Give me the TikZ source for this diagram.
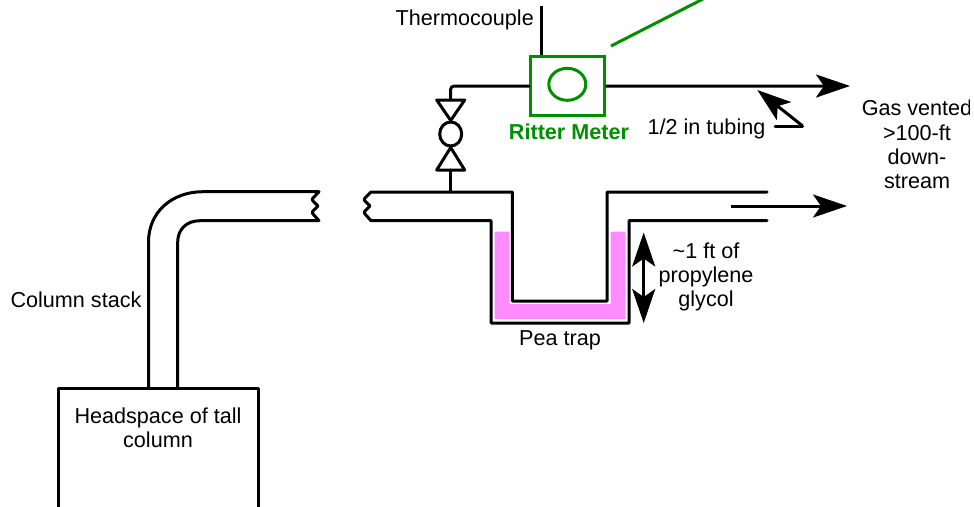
\documentclass[tikz,border=0pt]{standalone}
\usepackage{fontspec}
\setmainfont{Liberation Sans}
\usetikzlibrary{arrows.meta,shapes.geometric}
\definecolor{meterg}{HTML}{008F00}
\definecolor{pinkliq}{HTML}{FF8CFF}
\tikzset{
  x=1pt,y=-1pt,
  pipe/.style={draw=black,line width=3pt,line join=round,line cap=round},
  greenline/.style={draw=meterg,line width=3pt},
  bigarrow/.style={pipe,line cap=butt,-{Stealth[length=34pt,width=23pt,inset=8pt]}},
  bothways/.style={pipe,line cap=butt,{Stealth[length=34pt,width=23pt,inset=8pt]}-{Stealth[length=34pt,width=23pt,inset=8pt]}},
  txt/.style={inner sep=0pt,font=\fontsize{21.6}{24.4}\selectfont,align=center,text=black},
}
\begin{document}
\begin{tikzpicture}
\useasboundingbox (0,0) rectangle (974,506);
\clip (0,0) rectangle (969.5,506);
% pink liquid
\fill[pinkliq] (494.7,231.7) -- (509.3,231.7) -- (509.3,304) -- (610.7,304) -- (610.7,231.7) -- (625.5,231.7) -- (625.5,319) -- (494.7,319) -- cycle;
% meter and valve nodes
\node[draw=meterg,line width=3pt,minimum width=73.5pt,minimum height=59.5pt,inner sep=0pt] (meter) at (567.3,86.2) {};
\node[draw=meterg,line width=3pt,ellipse,minimum width=37pt,minimum height=32pt,inner sep=0pt] (dial) at (567.3,84.3) {};
\node[draw=black,line width=3pt,ellipse,minimum width=22pt,minimum height=24pt,inner sep=0pt] (valve) at (450.7,134) {};
\draw[pipe] (436.7,100) -- (464.7,100) -- (valve.north) -- cycle;
\draw[pipe] (436.7,170) -- (464.7,170) -- (valve.south) -- cycle;
\coordinate (vtop) at (450.7,100);
\coordinate (vbot) at (450.7,170);
\coordinate (tee) at (450.7,191.7);
% tubing
\coordinate (tctop) at (541.7,6);
\draw[pipe,line cap=butt] (tctop) -- (tctop |- meter.north);
\draw[pipe,rounded corners=3pt] (meter.west) -- (vtop |- meter.west) -- (vtop);
\draw[pipe] (vbot) -- (tee);
\coordinate (vent) at (850,86);
\draw[bigarrow] (meter.east) -- (vent);
\draw[greenline] (611,46) -- (703,-1);
% stack and left pipe
\draw[pipe,line cap=butt] (58,510) -- (58,388) -- (258,388) -- (258,510);
\draw[pipe] (148.5,388) -- (148.5,242) .. controls (148.5,212) and (172,191.7) .. (203,191.7) -- (319,191.7)
  -- (313,198) .. controls (312,199) and (312,200) .. (313,201) -- (318,206) -- (313,211) .. controls (312,212) and (312,213) .. (313,214) -- (319,220.7)
  -- (200,220.7) .. controls (186,220.7) and (177.7,230) .. (177.7,242) -- (177.7,388);
% right pipe and trap
\draw[pipe] (767,192) -- (607,192) -- (607,301) -- (512.3,301) -- (512.3,192) -- (371,192)
  -- (365,198) .. controls (364,199) and (364,200) .. (365,201) -- (370,206) -- (365,211) .. controls (364,212) and (364,213) .. (365,214) -- (371,220.7)
  -- (491,220.7) -- (491,323) -- (629,323) -- (629,220.7) -- (767,220.7);
% arrows
\coordinate (flowa) at (731,206);
\coordinate (flowb) at (847,206);
\draw[bigarrow] (flowa) -- (flowb);
\coordinate (lvla) at (643.7,232.5);
\coordinate (lvlb) at (643.7,323);
\draw[bothways] (lvla) -- (lvlb);
\coordinate (tuba) at (775,126);
\coordinate (tubb) at (802.7,126);
\coordinate (tubc) at (757.3,90);
\draw[pipe] (tuba) -- (tubb);
\draw[pipe,line cap=butt,-{Stealth[length=34pt,width=23pt,inset=8pt]}] (tubb) -- (tubc);
% labels
\node[txt,anchor=east] (tc) at (534,20) {Thermocouple};
\node[txt,anchor=center,text=meterg,font=\fontsize{21.6}{24.4}\selectfont\bfseries] (rm) at (569,132) {Ritter Meter};
\node[txt] (tube) at (706.5,129) {1/2 in tubing};
\node[txt] (gas) at (917,144.5) {Gas vented\\>100-ft\\down-\\stream};
\node[txt] (glyc) at (706,277) {\textasciitilde 1 ft of\\propylene\\glycol};
\node[txt] (pea) at (560,340.5) {Pea trap};
\node[txt] (cs) at (76,300) {Column stack};
\node[txt] (hs) at (158,428) {Headspace of tall\\column};
\end{tikzpicture}
\end{document}
